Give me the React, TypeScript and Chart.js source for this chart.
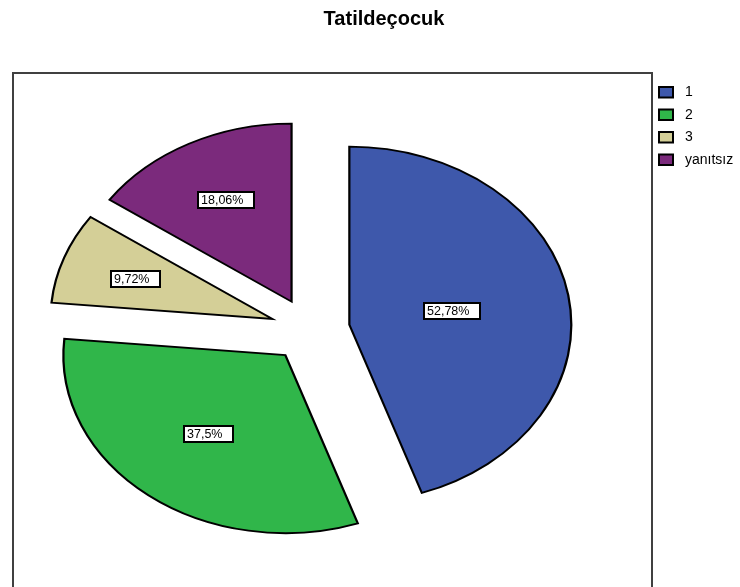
import React, { useEffect, useRef } from "react";
import { Chart, registerables } from "chart.js";

Chart.register(...registerables);

// ---- data ----
const TITLE = "Tatildeçocuk";
const categories = ["1", "2", "3", "yanıtsız"];
const percentValues = [52.78, 37.5, 9.72, 18.06];
const sliceColors = ["#3e58ab", "#30b64a", "#d4cf97", "#7b2a7c"];

// ---- layout constants ----
const W = 740;
const H = 587;
const RADIUS = 178;
const SCALE_X = 1.247;
const EXPLODE = 32;
const FONT = "'Liberation Sans', Arial, sans-serif";

const fmt = (v: number) => String(v).replace(".", ",") + "%";

const explodedPie = {
  id: "explodedPie",
  beforeDraw(chart: any) {
    const ctx = chart.ctx;
    ctx.save();
    ctx.fillStyle = "#ffffff";
    ctx.fillRect(0, 0, W, H);
    // frame
    ctx.strokeStyle = "#404040";
    ctx.lineWidth = 2;
    ctx.strokeRect(13, 73, 639, 600);
    // title
    ctx.fillStyle = "#000";
    ctx.font = `bold 20px ${FONT}`;
    ctx.textAlign = "center";
    ctx.textBaseline = "middle";
    ctx.fillText(TITLE, 384, 19);
    // legend
    const colors = chart.data.datasets[0].backgroundColor;
    ctx.font = `14px ${FONT}`;
    ctx.textAlign = "left";
    chart.data.labels.forEach((lab: string, i: number) => {
      const yy = 87 + i * 22.5;
      ctx.fillStyle = colors[i];
      ctx.fillRect(659, yy, 14, 10.5);
      ctx.strokeStyle = "#000";
      ctx.lineWidth = 2;
      ctx.strokeRect(659, yy, 14, 10.5);
      ctx.fillStyle = "#000";
      ctx.fillText(lab, 685, yy + 5.5);
    });
    ctx.restore();
  },
  beforeDatasetsDraw(chart: any) {
    const ctx = chart.ctx;
    const meta = chart.getDatasetMeta(0);
    meta.data.forEach((el: any) => {
      const { x, y, startAngle, endAngle } = el;
      const mid = (startAngle + endAngle) / 2;
      ctx.save();
      ctx.translate(x, y);
      ctx.scale(SCALE_X, 1);
      ctx.translate(Math.cos(mid) * EXPLODE, Math.sin(mid) * EXPLODE);
      ctx.translate(-x, -y);
      el.draw(ctx);
      ctx.restore();
    });
    return false;
  },
  afterDraw(chart: any) {
    const ctx = chart.ctx;
    const meta = chart.getDatasetMeta(0);
    const vals = chart.data.datasets[0].data;
    ctx.save();
    ctx.font = `12.5px ${FONT}`;
    ctx.textAlign = "left";
    ctx.textBaseline = "middle";
    meta.data.forEach((el: any, i: number) => {
      const { x, y, startAngle, endAngle, outerRadius } = el;
      const mid = (startAngle + endAngle) / 2;
      const alpha = (endAngle - startAngle) / 2;
      const f = (2 * Math.sin(alpha)) / (3 * alpha);
      const L = EXPLODE + outerRadius * f;
      const px = x + SCALE_X * Math.cos(mid) * L;
      const py = y + Math.sin(mid) * L;
      const txt = fmt(vals[i]);
      const tw = ctx.measureText(txt).width;
      const bw = Math.round(tw + 14);
      const bh = 16;
      const bx = Math.round(px - bw / 2);
      const by = Math.round(py - bh / 2);
      ctx.fillStyle = "#fff";
      ctx.fillRect(bx, by, bw, bh);
      ctx.strokeStyle = "#000";
      ctx.lineWidth = 2;
      ctx.strokeRect(bx, by, bw, bh);
      ctx.fillStyle = "#000";
      ctx.fillText(txt, bx + 3, by + bh / 2 + 0.5);
    });
    ctx.restore();
  },
};

export default function App() {
  const ref = useRef<HTMLCanvasElement | null>(null);
  useEffect(() => {
    if (!ref.current) return;
    const chart = new Chart(ref.current, {
      type: "pie",
      data: {
        labels: categories,
        datasets: [
          {
            data: percentValues,
            backgroundColor: sliceColors,
            borderColor: "#000",
            borderWidth: 1.8,
            borderJoinStyle: "miter",
            radius: RADIUS,
          } as any,
        ],
      },
      options: {
        animation: false,
        responsive: false,
        events: [],
        layout: { padding: { left: 12, right: 132, top: 73, bottom: 0 } },
        plugins: {
          legend: { display: false },
          title: { display: false },
          tooltip: { enabled: false },
        },
      },
      plugins: [explodedPie],
    });
    return () => chart.destroy();
  }, []);
  return (
    <div style={{ position: "absolute", left: 0, top: 0, width: W, height: H, background: "#fff" }}>
      <canvas ref={ref} width={W} height={H} style={{ display: "block" }} />
    </div>
  );
}
